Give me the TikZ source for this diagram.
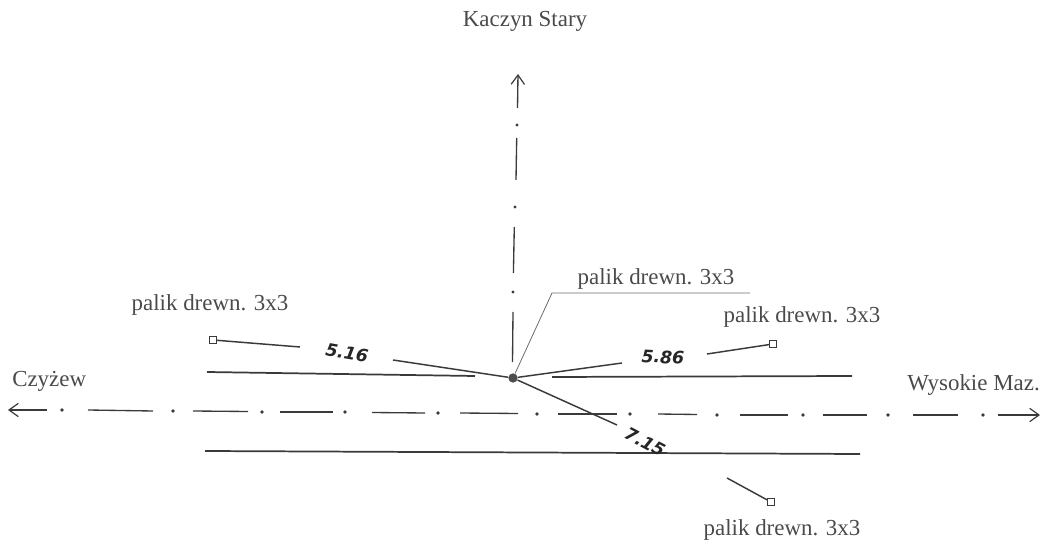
\documentclass[tikz,border=0pt]{standalone}
\usepackage{fontspec}
\setmainfont{Liberation Serif}
\newfontfamily\handfont{DejaVu Sans}
\usetikzlibrary{arrows.meta}
\definecolor{inkline}{HTML}{3A3A3A}
\definecolor{inktext}{HTML}{4A4A4A}
\tikzset{
  x=0.75pt,y=-0.75pt,
  lbl/.style={inner sep=0pt,text=inktext,font=\fontsize{17.2}{20}\selectfont},
  hand/.style={inner sep=0pt,text=black!85,font=\handfont\itshape\bfseries\fontsize{13}{15}\selectfont},
  axis/.style={draw=inkline,line width=1pt},
  road/.style={draw=inkline,line width=1.3pt},
  lead/.style={draw=inkline,line width=1.1pt},
  thinlead/.style={draw=inkline!75,line width=0.6pt},
  barb/.style={-{Straight Barb[length=7pt,width=10pt,line width=0.9pt]}},
  stake/.style={draw=inkline,line width=0.9pt,fill=white,minimum size=5pt,inner sep=0pt,rectangle},
  hub/.style={circle,fill=black!70,minimum size=7pt,inner sep=0pt}
}
\begin{document}
\begin{tikzpicture}
\useasboundingbox (0,0) rectangle (1045,548);
% labels
\node[lbl] (kaczyn) at (525,21) {Kaczyn Stary};
\node[lbl,anchor=west] (czyzew) at (12,381) {Czyżew};
\node[lbl,anchor=east] (wysokie) at (1040,385) {Wysokie Maz.};
\node[lbl] (p1) at (210,305) {palik drewn. 3x3};
\node[lbl] (p2) at (656,279) {palik drewn. 3x3};
\node[lbl] (p3) at (802,317) {palik drewn. 3x3};
\node[lbl] (p4) at (782,530) {palik drewn. 3x3};
% hub and stakes
\node[hub] (hub) at (513,378) {};
\node[stake] (s1) at (213,340) {};
\node[stake] (s2) at (773,344) {};
\node[stake] (s3) at (771,502) {};
% road edges
\coordinate (ulw) at (207,372); \coordinate (ule) at (475,376);
\coordinate (urw) at (552,377); \coordinate (ure) at (852,376);
\coordinate (lw) at (205,451);  \coordinate (le) at (860,454);
\draw[road] (ulw) -- (ule);
\draw[road] (urw) -- (ure);
\draw[road] (lw) -- (le);
% measured lines, broken by their values
\node[hand,rotate=-10] (m1) at (347,353) {5.16};
\node[hand,rotate=-3] (m2) at (663,357) {5.86};
\node[hand,rotate=-28] (m3) at (645,442) {7.15};
\coordinate (a1) at (300,347); \coordinate (a2) at (393,360);
\coordinate (b1) at (622,363); \coordinate (b2) at (707,354);
\coordinate (c1) at (617,425); \coordinate (c2) at (727,478);
\draw[lead] (s1) -- (a1);
\draw[lead] (a2) -- (hub);
\draw[lead] (hub) -- (b1);
\draw[lead] (b2) -- (s2);
\draw[lead] (hub) -- (c1);
\draw[lead] (c2) -- (s3);
% label leader
\coordinate (k1) at (552,293); \coordinate (k2) at (750,293);
\draw[thinlead] (hub) -- (k1) -- (k2);
% north axis
\coordinate (ntip) at (518,74); \coordinate (n0) at (517.5,108);
\draw[axis,barb] (n0) -- (ntip);
\foreach \xa/\ya/\xb/\yb in {516.7/138/516/180, 514.3/227/513.4/273, 513/312/512.5/362}
  \draw[axis] (\xa,\ya) -- (\xb,\yb);
\foreach \xa/\ya in {517/125, 515/207, 513/292}
  \fill[inkline] (\xa,\ya) circle[radius=1.7];
% east-west axis
\coordinate (wtip) at (8,410); \coordinate (w0) at (47,410);
\coordinate (etip) at (1040,415); \coordinate (e0) at (998,415);
\draw[axis,barb] (w0) -- (wtip);
\draw[axis,barb] (e0) -- (etip);
\foreach \xa/\ya/\xb/\yb in {88/410/153/411, 193/411/248/411.5, 280/412/333/412, 372/412.5/425/413, 460/413/518/413.5, 558/414/617/414, 658/414/697/414.5, 740/415/788/415, 823/415/867/415, 913/415/958/415}
  \draw[axis] (\xa,\ya) -- (\xb,\yb);
\foreach \xa/\ya in {62/410, 173/411, 262/412, 345/412, 438/413, 537/414, 630/414, 717/415, 803/415, 888/415, 983/415}
  \fill[inkline] (\xa,\ya) circle[radius=1.8];
\end{tikzpicture}
\end{document}
